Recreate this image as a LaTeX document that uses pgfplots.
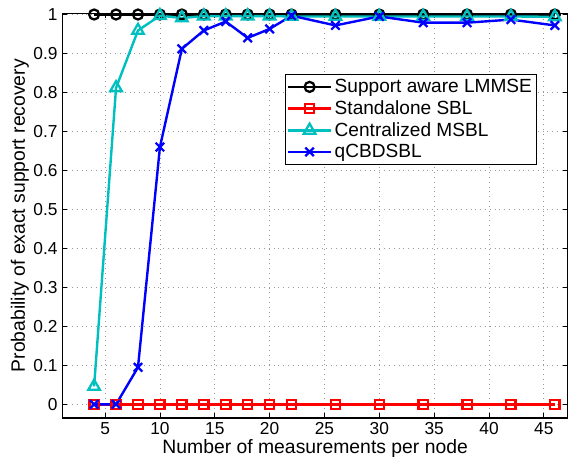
\documentclass[border=0pt]{standalone}
\usepackage{fontspec}
\setmainfont{Liberation Sans}
\usepackage{pgfplots}
\pgfplotsset{compat=1.18}
\definecolor{mcyan}{rgb}{0,0.75,0.75}
\begin{document}
\begin{tikzpicture}
\begin{axis}[
  at={(0,0)}, anchor=south west,
  scale only axis, width=379.05pt, height=303.3pt,
  xmin=1.1, xmax=47.2, ymin=-0.035, ymax=1.003,
  xtick={5,10,15,20,25,30,35,40,45},
  ytick={0,0.1,0.2,0.3,0.4,0.5,0.6,0.7,0.8,0.9,1},
  yticklabels={0,0.1,0.2,0.3,0.4,0.5,0.6,0.7,0.8,0.9,1},
  /pgf/number format/assume math mode=true,
  tick label style={font=\fontsize{13}{15}\selectfont},
  label style={font=\fontsize{14.5}{17}\selectfont},
  xlabel={Number of measurements per node},
  ylabel={Probability of exact support recovery},
  x label style={at={(axis description cs:0.5,-0.075)}, anchor=center},
  y label style={at={(axis description cs:-0.0837,0.5)}, anchor=center},
  grid=major,
  grid style={dash pattern=on 0.6pt off 3pt, gray!80, line width=0.6pt},
  tick align=inside,
  major tick length=3.5pt,
  axis line style={line width=0.8pt},
  every tick/.style={black, line width=0.6pt},
  legend style={at={(0.939,0.85)}, anchor=north east, draw=black, line width=0.8pt,
    font=\fontsize{14.3}{16}\selectfont, inner sep=1.5pt, row sep=0.5pt,
    cells={anchor=west}},
  legend image code/.code={\draw[mark repeat=2,mark phase=2] plot coordinates {(0cm,0cm) (0.56cm,0cm) (1.12cm,0cm)};},
  every axis plot/.append style={line width=1.8pt, mark options={solid, line width=1.7pt}},
]
\addplot[black, mark=o, mark size=3.75pt] coordinates {
(4,1) (6,1) (8,1) (10,1) (12,1) (14,1) (16,1) (18,1) (20,1) (22,1) (26,1) (30,1) (34,1) (38,1) (42,1) (46,1)};
\addlegendentry{Support aware LMMSE}
\addplot[red, mark=square, mark size=3.5pt] coordinates {
(4,0) (6,0) (8,0) (10,0) (12,0) (14,0) (16,0) (18,0) (20,0) (22,0) (26,0) (30,0) (34,0) (38,0) (42,0) (46,0)};
\addlegendentry{Standalone SBL}
\addplot[mcyan, mark=triangle, mark size=5pt] coordinates {
(4,0.046) (6,0.812) (8,0.959) (10,0.997) (12,0.991) (14,0.996) (16,0.996) (18,0.996) (20,0.996) (22,0.995) (26,0.995) (30,0.995) (34,0.995) (38,0.995) (42,0.995) (46,0.994)};
\addlegendentry{Centralized MSBL}
\addplot[blue, mark=x, mark size=4.5pt] coordinates {
(4,0) (6,0) (8,0.095) (10,0.66) (12,0.912) (14,0.959) (16,0.982) (18,0.94) (20,0.963) (22,0.997) (26,0.972) (30,0.995) (34,0.979) (38,0.979) (42,0.987) (46,0.972)};
\addlegendentry{qCBDSBL}
\end{axis}
\pgfresetboundingbox
\path[use as bounding box] (-46.7pt,-32.5pt) rectangle (379.05pt,313.3pt);
\end{tikzpicture}
\end{document}
